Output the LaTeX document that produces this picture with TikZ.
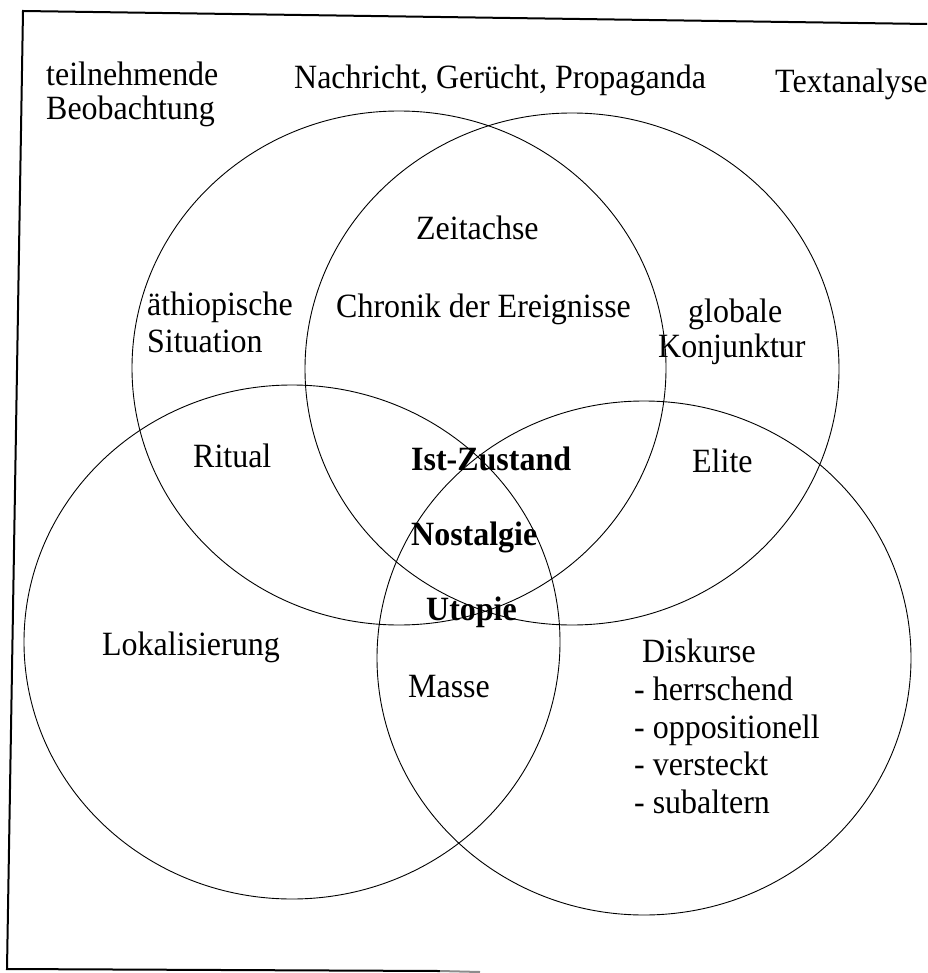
\documentclass[tikz,border=0pt]{standalone}
\usepackage{fontspec}
\setmainfont{Liberation Serif}[FakeStretch=0.94]
\begin{document}
\begin{tikzpicture}[x=1pt,y=-1pt,
  lbl/.style={inner sep=0pt,anchor=base west,font=\fontsize{34}{38}\selectfont},
  blbl/.style={lbl,font=\fontsize{34}{38}\selectfont\bfseries},
  venn/.style={draw=black,line width=0.9pt}]
\useasboundingbox (0,0) rectangle (927,973);
\fill[white] (0,0) rectangle (927,973);
% frame
\coordinate (tl) at (23,11);
\coordinate (tr) at (927,24);
\coordinate (bl) at (7,969);
\coordinate (br) at (440,971);
\coordinate (bf) at (480,972);
\draw[line width=2pt] (tr) -- (tl) -- (bl) -- (br);
\draw[line width=2pt,black!45] (br) -- (bf);
% circles
\draw[venn] (399,368) ellipse [x radius=267, y radius=257];
\draw[venn] (572,369) ellipse [x radius=267, y radius=256];
\draw[venn] (292,642) ellipse [x radius=268, y radius=257];
\draw[venn] (644,658) ellipse [x radius=267, y radius=257];
% texts
\node[lbl] (t1) at (46,86) {teilnehmende};
\node[lbl] (t2) at (46,120) {Beobachtung};
\node[lbl] (t3) at (294,89) {Nachricht, Gerücht, Propaganda};
\node[lbl] (t4) at (775,93) {Textanalyse};
\node[lbl] (t5) at (416,240) {Zeitachse};
\node[lbl] (t6) at (147,315) {äthiopische};
\node[lbl] (t7) at (147,352) {Situation};
\node[lbl] (t8) at (336,317) {Chronik der Ereignisse};
\node[lbl] (t9) at (688,322) {globale};
\node[lbl] (t10) at (658,357) {Konjunktur};
\node[lbl] (t11) at (193,467) {Ritual};
\node[blbl] (t12) at (411,470) {Ist-Zustand};
\node[lbl] (t13) at (692,472) {Elite};
\node[blbl] (t14) at (411,545) {Nostalgie};
\node[blbl] (t15) at (426,620) {Utopie};
\node[lbl] (t16) at (102,655) {Lokalisierung};
\node[lbl] (t17) at (642,662) {Diskurse};
\node[lbl] (t18) at (408,697) {Masse};
\node[lbl] (t19) at (634,700) {- herrschend};
\node[lbl] (t20) at (634,738) {- oppositionell};
\node[lbl] (t21) at (634,775) {- versteckt};
\node[lbl] (t22) at (634,813) {- subaltern};
\end{tikzpicture}
\end{document}
